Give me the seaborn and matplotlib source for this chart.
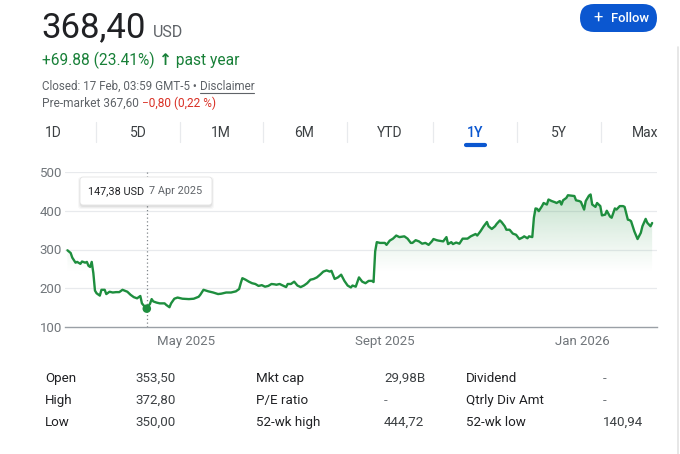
import numpy as np
import pandas as pd
import matplotlib
matplotlib.use("Agg")
import matplotlib.pyplot as plt
import matplotlib.dates as mdates
from matplotlib.patches import FancyBboxPatch
from matplotlib.lines import Line2D
from matplotlib.transforms import IdentityTransform
import seaborn as sns

# ---------------- data ----------------
start_date = "2025-02-17"
day_offsets = [0, 2, 3, 5, 6, 8, 9, 11, 12, 13, 14, 15, 16, 17, 18, 20, 21, 23, 24, 26,
               28, 30, 32, 34, 37, 39, 41, 43, 45, 46, 48, 49, 51, 52, 53, 55, 57, 59, 60, 61,
               62, 63, 64, 66, 68, 71, 75, 78, 81, 82, 84, 87, 90, 93, 95, 98, 101, 104, 106, 107,
               108, 110, 112, 114, 116, 118, 120, 122, 124, 126, 128, 129, 131, 133, 135, 136, 138, 140, 142, 144,
               146, 148, 150, 152, 154, 156, 158, 160, 162, 163, 165, 167, 169, 171, 173, 175, 176, 178, 180, 182,
               184, 186, 188, 189, 190, 191, 193, 196, 197, 199, 201, 203, 205, 208, 210, 212, 213, 215, 217, 219,
               221, 223, 225, 226, 228, 229, 232, 234, 235, 237, 238, 240, 242, 244, 247, 249, 252, 253, 255, 257,
               259, 260, 262, 264, 265, 267, 268, 270, 271, 273, 275, 277, 279, 281, 282, 284, 285, 287, 288, 289,
               290, 291, 293, 294, 296, 297, 299, 301, 302, 304, 305, 306, 308, 309, 311, 313, 314, 316, 317, 319,
               320, 322, 323, 324, 326, 327, 329, 330, 332, 333, 335, 336, 338, 339, 341, 343, 344, 346, 347, 348,
               350, 351, 352, 354, 355, 357, 358, 360, 361]
close_usd = [298, 291, 279, 266, 268, 263, 269, 266, 268, 258, 255, 268, 239, 194, 187, 181, 196, 196, 185, 191,
             189, 190, 190, 196, 191, 183, 177, 174, 180, 161, 151, 147.38, 160, 172, 166, 163, 161, 161, 161, 157,
             154, 151, 161, 173, 176, 173, 172, 173, 178, 183, 196, 192, 189, 185, 186, 189, 189, 192, 198, 213,
             226, 222, 217, 213, 211, 206, 208, 204, 206, 211, 210, 209, 211, 207, 203, 211, 211, 217, 207, 203,
             207, 213, 222, 224, 228, 235, 243, 246, 243, 245, 224, 228, 235, 219, 207, 202, 207, 204, 228, 217,
             213, 219, 219, 216, 295, 319, 317, 317, 312, 323, 328, 336, 332, 334, 328, 317, 317, 324, 321, 315,
             317, 312, 321, 327, 324, 323, 321, 332, 314, 319, 314, 318, 315, 328, 328, 334, 340, 336, 347, 360,
             371, 360, 353, 360, 366, 375, 371, 360, 351, 351, 341, 338, 327, 331, 334, 329, 334, 332, 382, 406,
             405, 399, 412, 420, 416, 429, 425, 422, 420, 425, 416, 427, 433, 440, 439, 438, 427, 425, 423, 403,
             425, 439, 442, 416, 410, 420, 412, 388, 390, 400, 385, 382, 406, 403, 412, 412, 410, 377, 376, 373,
             347, 337, 327, 343, 360, 379, 369, 360, 368.40]

tick_dates = ["2025-05-01", "2025-09-01", "2026-01-01"]
tick_labels = ["May 2025", "Sept 2025", "Jan 2026"]
y_ticks = [100, 200, 300, 400, 500]

hover_date = "2025-04-07"
hover_value = 147.38
hover_text = "147,38 USD"
hover_label = "7 Apr 2025"

price_text = "368,40"
currency = "USD"
change_text = "+69.88 (23.41%)"
closed_text = "Closed: 17 Feb, 03:59 GMT-5 \u2022 "
premarket_text = "Pre-market 367,60 "
premarket_change = "\u22120,80 (0,22 %)"

range_tabs = ["1D", "5D", "1M", "6M", "YTD", "1Y", "5Y", "Max"]
active_tab = "1Y"

stat_labels = [["Open", "High", "Low"],
               ["Mkt cap", "P/E ratio", "52-wk high"],
               ["Dividend", "Qtrly Div Amt", "52-wk low"]]
stat_values = [["353,50", "372,80", "350,00"],
               ["29,98B", "-", "444,72"],
               ["-", "-", "140,94"]]

# ---------------- styling ----------------
sns.set_theme(style="white")
plt.rcParams["font.family"] = ["Roboto", "DejaVu Sans"]

GREEN = "#1e8e3e"
GREEN_TXT = "#188038"
DARK = "#202124"
GRAY = "#5f6368"
LGRAY = "#70757a"
RED = "#d93025"
BLUE = "#0b57d0"

W, H = 680, 454
fig = plt.figure(figsize=(W / 100, H / 100), dpi=100)
fig.patch.set_facecolor("white")


def fx(x):
    return x / W


def fy(y):
    return 1 - y / H


t0 = pd.Timestamp(start_date)
df = pd.DataFrame({"date": t0 + pd.to_timedelta(day_offsets, unit="D"),
                   "close": close_usd})

ax = fig.add_axes([fx(65), fy(327), (657 - 65) / W, (327 - 172) / H])
ax.set_facecolor("white")

sns.lineplot(data=df, x="date", y="close", color=GREEN, linewidth=1.7, ax=ax,
             zorder=4, solid_joinstyle="round", solid_capstyle="round")

xmin = mdates.date2num(t0 - pd.Timedelta(days=1.5))
xmax = mdates.date2num(t0 + pd.Timedelta(days=364))

# gradient fill under the line
fill = ax.fill_between(df["date"], df["close"], 100, facecolor="none", edgecolor="none")
path = fill.get_paths()[0]
n = 256
vals = np.linspace(100, 500, n)
alpha = np.clip((vals - 240) / (445 - 240), 0, 1) ** 1.1 * 0.26
rgba = np.zeros((n, 1, 4))
rgba[:, 0, 0] = 30 / 255
rgba[:, 0, 1] = 142 / 255
rgba[:, 0, 2] = 62 / 255
rgba[:, 0, 3] = alpha
im = ax.imshow(rgba, extent=[xmin, xmax, 100, 500], origin="lower", aspect="auto",
               zorder=2, interpolation="bilinear")
im.set_clip_path(path, transform=ax.transData)

ax.set_xlim(xmin, xmax)
ax.set_ylim(100, 500)

# grid / spines
for s in ["top", "right", "left"]:
    ax.spines[s].set_visible(False)
ax.spines["bottom"].set_color("#9aa0a6")
ax.spines["bottom"].set_linewidth(1.0)
for v in y_ticks[1:]:
    ax.axhline(v, color="#e8eaed", linewidth=0.9, zorder=1)

ax.set_yticks(y_ticks)
ax.set_yticklabels([str(v) for v in y_ticks])
ax.tick_params(axis="y", length=0, pad=2, labelsize=9.5, labelcolor=LGRAY)
ax.set_xticks([mdates.date2num(pd.Timestamp(d)) for d in tick_dates])
ax.set_xticklabels(tick_labels)
ax.tick_params(axis="x", length=4, width=1, color="#9aa0a6", pad=2,
               labelsize=9.5, labelcolor=LGRAY, direction="out")
ax.set_xlabel("")
ax.set_ylabel("")
ax.grid(False)

# hover marker
hx = mdates.date2num(pd.Timestamp(hover_date))
ax.axvline(hx, color="#80868b", linewidth=0.9, linestyle=(0, (1, 2)), zorder=3)
ax.scatter([hx], [hover_value], s=38, color=GREEN, zorder=6, edgecolor="none")

ID = IdentityTransform()

# tooltip
for k, a in enumerate([0.05, 0.04, 0.03]):
    fig.add_artist(FancyBboxPatch((80 - k, H - 206 - k - 1), 132 + 2 * k, 28 + 2 * k,
                                  boxstyle="round,pad=0,rounding_size=3",
                                  transform=ID, facecolor=(0, 0, 0, a), edgecolor="none",
                                  zorder=9))
fig.add_artist(FancyBboxPatch((80, H - 205), 132, 28, boxstyle="round,pad=0,rounding_size=3",
                              transform=ID, facecolor="white", edgecolor="#e3e3e3",
                              linewidth=0.6, zorder=10))
fig.text(fx(88), fy(191), hover_text, fontsize=7.8, color=DARK,
         va="center", ha="left", zorder=11)
fig.text(fx(149), fy(191), hover_label, fontsize=7.8, color=GRAY,
         va="center", ha="left", zorder=11)

# header
fig.text(fx(41), fy(37), price_text, fontsize=25, color=DARK, va="baseline", ha="left")
fig.text(fx(153), fy(37), currency, fontsize=11.5, color=GRAY, va="baseline", ha="left")

t_chg = fig.text(fx(42), fy(65), change_text + " ", fontsize=11.2, color=GREEN_TXT,
                 va="baseline", ha="left")
t_arr = fig.text(0, 0, "\u2191", fontsize=11.2, color=GREEN_TXT, fontweight="bold",
                 family=["DejaVu Sans"], va="baseline", ha="left")
t_py = fig.text(0, 0, " past year", fontsize=11.2, color=GREEN_TXT, va="baseline", ha="left")

t_cl = fig.text(fx(42), fy(90), closed_text, fontsize=8.4, color=GRAY, va="baseline", ha="left")
t_dis = fig.text(0, 0, "Disclaimer", fontsize=8.4, color=GRAY, va="baseline", ha="left")

t_pm = fig.text(fx(42), fy(107), premarket_text, fontsize=8.6, color=GRAY,
                va="baseline", ha="left")
t_pmc = fig.text(0, 0, premarket_change, fontsize=8.6, color=RED, va="baseline", ha="left")

# follow button
fig.add_artist(FancyBboxPatch((580, H - 32), 77, 28, boxstyle="round,pad=0,rounding_size=14",
                              transform=ID, facecolor=BLUE, edgecolor="none", zorder=5))
fig.text(fx(598), fy(18), "+", fontsize=12, color="white", va="center", ha="center", zorder=6)
fig.text(fx(611), fy(18), "Follow", fontsize=9.4, color="white", fontweight="medium",
         va="center", ha="left", zorder=6)

# range tabs
tab_x = [53, 138, 221, 304, 390, 475, 559, 645]
for tx, lab in zip(tab_x, range_tabs):
    active = lab == active_tab
    fig.text(fx(tx), fy(137), lab, fontsize=10, color=(BLUE if active else "#3c4043"),
             va="baseline", ha="center", fontweight=("medium" if active else "normal"))
for sx in [96, 180, 263, 347, 433, 517, 601]:
    fig.add_artist(Line2D([fx(sx), fx(sx)], [fy(122), fy(142)], color="#e8eaed", linewidth=0.9))
fig.add_artist(Line2D([fx(466), fx(485)], [fy(145), fy(145)], color=BLUE, linewidth=3,
                      solid_capstyle="round"))

# right edge panel border
fig.add_artist(Line2D([fx(678), fx(678)], [fy(47), fy(454)], color="#e3e3e3", linewidth=1.2))

# stats table
col_lab_x = [45, 256, 466]
col_val_x = [135, 384, 603]
row_y = [382, 404, 426]
for c in range(3):
    for r in range(3):
        fig.text(fx(col_lab_x[c]), fy(row_y[r]), stat_labels[c][r], fontsize=9.6, color=DARK,
                 va="baseline", ha="left")
        v = stat_values[c][r]
        fig.text(fx(col_val_x[c]), fy(row_y[r]), v, fontsize=9.6,
                 color=(LGRAY if v == "-" else "#3c4043"), va="baseline", ha="left")

# chain mixed-colour text pieces
fig.canvas.draw()
r = fig.canvas.get_renderer()


def place_after(prev, nxt, base_y):
    bb = prev.get_window_extent(renderer=r)
    nxt.set_position((bb.x1 / W, fy(base_y)))


place_after(t_chg, t_arr, 65)
fig.canvas.draw()
place_after(t_arr, t_py, 65)
place_after(t_cl, t_dis, 90)
place_after(t_pm, t_pmc, 107)
fig.canvas.draw()
bb = t_dis.get_window_extent(renderer=r)
fig.add_artist(Line2D([bb.x0 / W, bb.x1 / W], [fy(92.5), fy(92.5)], color=GRAY, linewidth=0.8))

fig.savefig("out.png", dpi=100, facecolor="white")
